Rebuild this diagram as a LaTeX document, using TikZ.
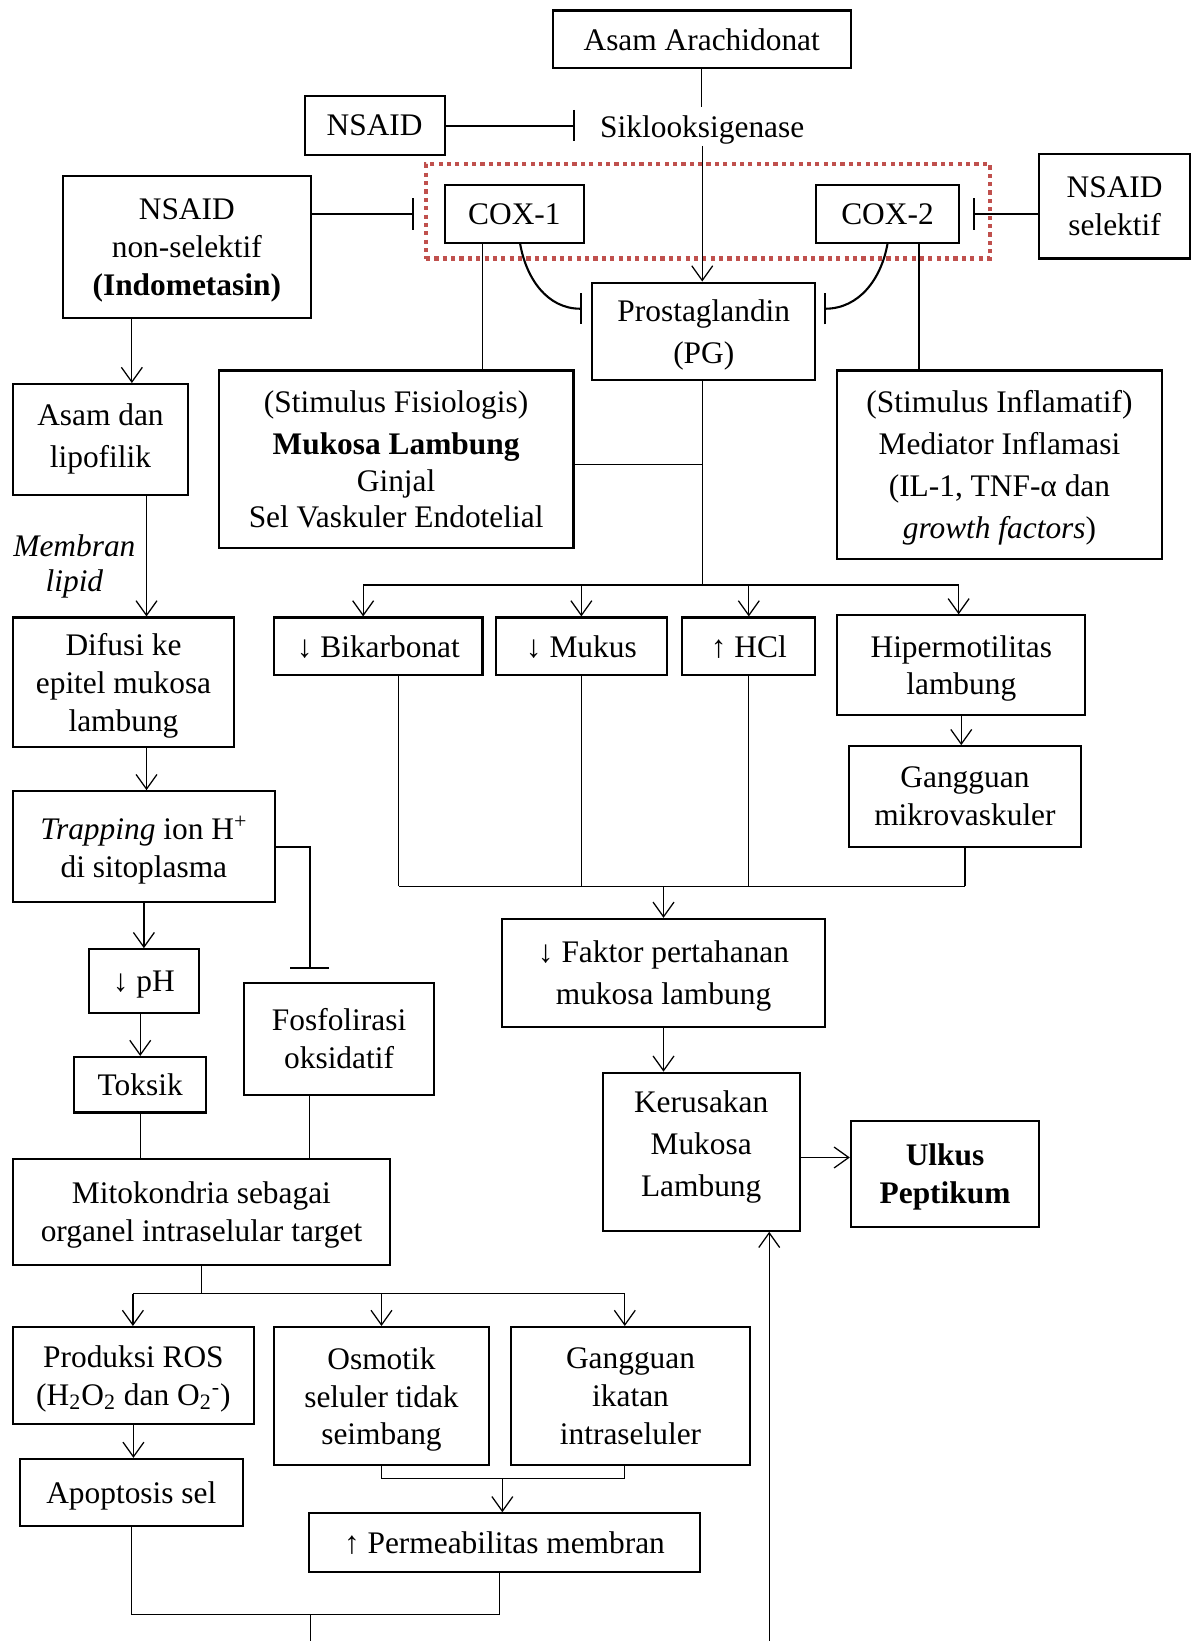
\documentclass[tikz,border=0pt]{standalone}
\usepackage{fontspec}
\setmainfont{Liberation Serif}
\usetikzlibrary{arrows.meta}
\definecolor{coxred}{RGB}{192,80,77}
\tikzset{
  box/.style={draw, line width=1pt, align=center, inner sep=1pt, text depth=0pt},
  arr/.style={line width=0.6pt, -{Straight Barb[length=7pt,width=10pt]}},
  inhib/.style={line width=1pt, -{Bar[width=15pt]}},
  link/.style={line width=0.6pt},
  wide/.style={font=\fontsize{15pt}{20pt}\selectfont}
}

\begin{document}
\begin{tikzpicture}[x=0.5pt, y=-0.5pt, font=\fontsize{15pt}{18pt}\selectfont]
\useasboundingbox (0,0) rectangle (1144,1568);

\node[box, minimum width=142.5pt, minimum height=27.5pt] (Asam) at (670.5,37.5) {Asam Arachidonat};
\node[inner xsep=12pt, minimum height=18pt, text depth=0pt] (Sik) at (671,121) {Siklooksigenase};
\node[box, minimum width=67pt, minimum height=28pt] (NSAID) at (358,120) {NSAID};

\node[draw=coxred, line width=2pt, dash pattern=on 2pt off 2pt, minimum width=269.5pt, minimum height=45pt] (COX) at (676.5,202) {};
\node[box, minimum width=66.5pt, minimum height=27.5pt] (COX1) at (491.5,204.5) {COX-1};
\node[box, minimum width=68pt, minimum height=27.5pt] (COX2) at (848,204.5) {COX-2};
\node[box, minimum width=72pt, minimum height=50pt] (NSel) at (1065,197) {NSAID\\selektif};
\node[box, minimum width=118.5pt, minimum height=68pt] (NNSel) at (178.5,236) {NSAID\\non-selektif\\\textbf{(Indometasin)}};

\node[box, wide, minimum width=106.5pt, minimum height=46.5pt] (PG) at (672.5,316.5) {Prostaglandin\\(PG)};
\node[box, font=\fontsize{15pt}{17.5pt}\selectfont, minimum width=169.5pt, minimum height=85pt] (Fis) at (378.5,439) {(Stimulus Fisiologis)\\[2.5pt]\textbf{Mukosa Lambung}\\Ginjal\\Sel Vaskuler Endotelial};
\node[box, wide, minimum width=155pt, minimum height=90pt] (Inf) at (955,444) {(Stimulus Inflamatif)\\Mediator Inflamasi\\(IL-1, TNF-α dan\\\textit{growth factors})};

\node[box, minimum width=99.5pt, minimum height=27.5pt] (Bik) at (361.5,617.5) {↓ Bikarbonat};
\node[box, minimum width=81.5pt, minimum height=27.5pt] (Muk) at (555.5,617.5) {↓ Mukus};
\node[box, minimum width=63.5pt, minimum height=27.5pt] (HCl) at (715.5,617.5) {↑ HCl};
\node[box, minimum width=118.5pt, minimum height=47.5pt] (Hip) at (918.5,635.5) {Hipermotilitas\\lambung};
\node[box, minimum width=111pt, minimum height=48pt] (GMV) at (922,761) {Gangguan\\mikrovaskuler};

\node[box, wide, minimum width=154pt, minimum height=51.5pt] (Fak) at (634,929.5) {↓ Faktor pertahanan\\mukosa lambung};
\node[box, wide, text depth=7.5pt, minimum width=94pt, minimum height=75.5pt] (Ker) at (670,1100.5) {Kerusakan\\Mukosa\\Lambung};
\node[box, minimum width=90pt, minimum height=50.5pt] (Ulk) at (903,1121.5) {\textbf{Ulkus}\\\textbf{Peptikum}};

\node[box, wide, text depth=3.5pt, minimum width=84pt, minimum height=53pt] (ADL) at (96,420) {Asam dan\\lipofilik};
\node[box, minimum width=106pt, minimum height=62pt] (Dif) at (118,652) {Difusi ke\\epitel mukosa\\lambung};
\node[box, minimum width=125.5pt, minimum height=53pt] (Trap) at (137.5,809) {\textit{Trapping} ion H\textsuperscript{+}\\di sitoplasma};
\node[box, minimum width=52.5pt, minimum height=30.5pt] (PH) at (137.5,937.5) {↓ pH};
\node[box, minimum width=63pt, minimum height=26.5pt] (Tok) at (134,1036.5) {Toksik};
\node[box, minimum width=91pt, minimum height=53.5pt] (Fos) at (324,992.5) {Fosfolirasi\\oksidatif};
\node[box, minimum width=180.5pt, minimum height=51pt] (Mit) at (192.5,1158) {Mitokondria sebagai\\organel intraselular target};

\node[box, minimum width=115.5pt, minimum height=46.5pt] (ROS) at (127.5,1314.5) {Produksi ROS\\(H\textsubscript{2}O\textsubscript{2} dan O\textsubscript{2}\textsuperscript{-})};
\node[box, minimum width=102.5pt, minimum height=66pt] (Osm) at (364.5,1334) {Osmotik\\seluler tidak\\seimbang};
\node[box, minimum width=114.5pt, minimum height=66pt] (GIk) at (602.5,1334) {Gangguan\\ikatan\\intraseluler};
\node[box, minimum width=106.5pt, minimum height=32pt] (Apo) at (125.5,1426) {Apoptosis sel};
\node[box, minimum width=187pt, minimum height=28pt] (Per) at (482,1474) {↑ Permeabilitas membran};

\draw[link] (Asam.south) -- (Asam.south |- Sik.north);
\draw[arr] (Sik.south) -- (Sik.south |- PG.north);
\draw[inhib] (NSAID.east) -- (NSAID.east -| Sik.west);
\draw[inhib, shorten >=14pt] (NNSel.east |- COX1) -- (COX1.west);
\draw[inhib, shorten >=6.5pt] (NSel.west |- COX2) -- (COX2.east);
\draw[inhib] ([xshift=2.75pt]COX1.south) to[out=-80, in=180] ([xshift=-4.5pt, yshift=10.75pt]PG.west);
\draw[inhib] (COX2.south) to[out=-100, in=0] ([xshift=3.5pt, yshift=10.75pt]PG.east);
\draw[link] ([xshift=-15.25pt]COX1.south) -- ([xshift=-15.25pt]COX1.south |- Fis.north);
\draw[link] ([xshift=15pt]COX2.south) -- ([xshift=15pt]COX2.south |- Inf.north);

\coordinate (Bus) at (671,559);
\coordinate (BusL) at (347,559);
\coordinate (BusR) at (916,559);
\draw[link] (PG.south -| Bus) -- (Bus);
\draw[link] ([yshift=-2.5pt]Fis.east) -- ([yshift=-2.5pt]Fis.east -| Bus);
\draw[link] (BusL) -- (BusR);
\draw[arr] (BusL) -- (BusL |- Bik.north);
\draw[arr] (BusL -| Muk.north) -- (Muk.north);
\draw[arr] (BusL -| HCl.north) -- (HCl.north);
\draw[arr] (BusR) -- (BusR |- Hip.north);
\draw[arr] (Hip.south) -- (Hip.south |- GMV.north);

\coordinate (ColL) at (381,847);
\coordinate (ColR) at (922,847);
\draw[link] ([xshift=9.75pt]Bik.south) -- ([xshift=9.75pt]Bik.south |- ColL);
\draw[link] (Muk.south) -- (Muk.south |- ColL);
\draw[link] (HCl.south) -- (HCl.south |- ColL);
\draw[link] (GMV.south) -- (GMV.south |- ColL);
\draw[link] (ColL) -- (ColR);
\draw[arr] (ColL -| Fak.north) -- (Fak.north);
\draw[arr] (Fak.south) -- (Fak.south |- Ker.north);
\draw[arr] ([yshift=-2.75pt]Ker.east) -- ([yshift=-2.75pt]Ker.east -| Ulk.west);
\coordinate (InR) at (735,1568);
\draw[arr] (InR) -- (InR |- Ker.south);

\draw[arr] ([xshift=-26.25pt]NNSel.south) -- ([xshift=-26.25pt]NNSel.south |- ADL.north);
\draw[arr] ([xshift=22pt]ADL.south) -- ([xshift=22pt]ADL.south |- Dif.north)
  node[midway, left=5pt, yshift=-5pt, inner sep=0pt, align=center, font=\itshape\fontsize{15pt}{16.5pt}\selectfont] (Mem) {Membran\\lipid};
\draw[arr] ([xshift=11pt]Dif.south) -- ([xshift=11pt]Dif.south |- Trap.north);
\draw[inhib, -{Bar[width=18.5pt]}, shorten >=6pt] (Trap.east) -| ([xshift=-14pt]Fos.north);
\draw[arr] (Trap) -- (PH);
\draw[arr] (PH.south -| Tok.north) -- (Tok.north);
\draw[link] (Tok.south) -- (Tok.south |- Mit.north);
\draw[link] ([xshift=-14pt]Fos.south) -- ([xshift=-14pt]Fos.south |- Mit.north);

\coordinate (MitL) at (127,1236);
\coordinate (MitR) at (597,1236);
\draw[link] (Mit.south) -- (Mit.south |- MitL);
\draw[link] (MitL) -- (MitR);
\draw[arr] (MitL) -- (MitL |- ROS.north);
\draw[arr] (MitL -| Osm.north) -- (Osm.north);
\draw[arr] (MitR) -- (MitR |- GIk.north);
\draw[arr] (ROS.south) -- (ROS.south |- Apo.north);

\coordinate (Join) at (480,1413);
\draw[link] (Osm.south) |- (Join) -| ([xshift=-2.75pt]GIk.south);
\draw[arr] (Join) -- (Join |- Per.north);

\coordinate (Low) at (297,1543);
\coordinate (OutL) at (297,1568);
\draw[link] (Apo.south) |- (Low) -| ([xshift=-2.5pt]Per.south);
\draw[link] (Low) -- (OutL);

\end{tikzpicture}
\end{document}
